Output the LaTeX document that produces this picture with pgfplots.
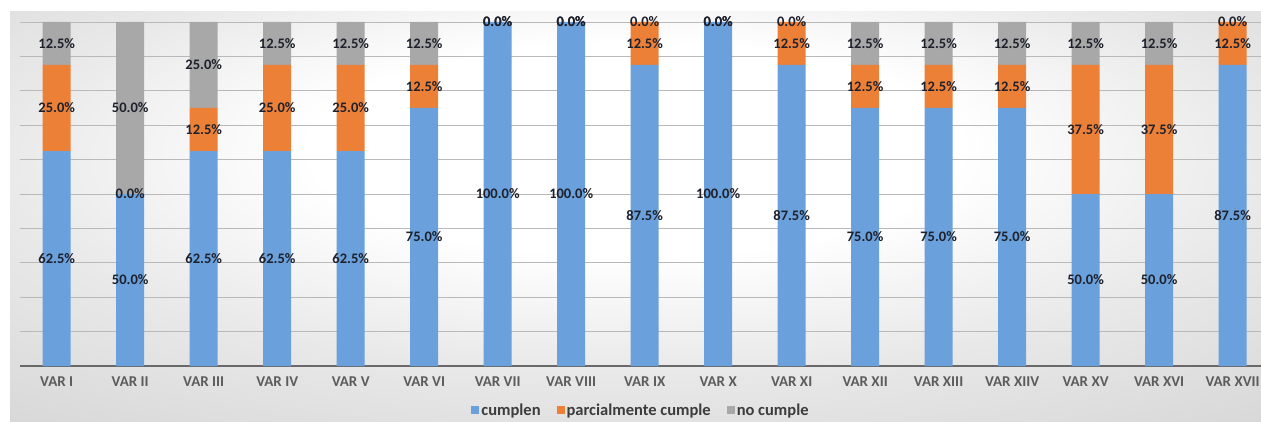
\documentclass[border=0pt]{standalone}
\usepackage{fontspec}
\setmainfont{Carlito}
\usepackage{pgfplots}
\usepackage{pgfplotstable}
\pgfplotsset{compat=1.18}

\definecolor{cblue}{RGB}{106,160,219}
\definecolor{corange}{RGB}{237,128,55}
\definecolor{cgray}{RGB}{168,168,168}
\definecolor{labelcol}{RGB}{30,33,43}
\definecolor{tickcol}{RGB}{92,92,92}
\definecolor{gridcol}{RGB}{185,185,185}
\definecolor{axiscol}{RGB}{105,105,105}
\definecolor{legcol}{RGB}{60,60,60}
\definecolor{bgA}{RGB}{232,232,232}
\definecolor{bgB}{RGB}{210,210,210}
\definecolor{bgC}{RGB}{200,200,200}

\pgfdeclareradialshading{chartbg}{\pgfpoint{0bp}{10bp}}{%
  color(0bp)=(white); color(13bp)=(white); color(26bp)=(bgA);
  color(44bp)=(bgB); color(75bp)=(bgC)}

\pgfplotstableread{
x  cumplen parcial nocumple
0  62.5  25.0  12.5
1  50.0   0.0  50.0
2  62.5  12.5  25.0
3  62.5  25.0  12.5
4  62.5  25.0  12.5
5  75.0  12.5  12.5
6  100.0  0.0   0.0
7  100.0  0.0   0.0
8  87.5  12.5   0.0
9  100.0  0.0   0.0
10 87.5  12.5   0.0
11 75.0  12.5  12.5
12 75.0  12.5  12.5
13 75.0  12.5  12.5
14 50.0  37.5  12.5
15 50.0  37.5  12.5
16 87.5  12.5   0.0
}\datatable
% middle of each stacked segment, for the value labels
\pgfplotstablecreatecol[expr={\thisrow{cumplen}/2}]{mc}\datatable
\pgfplotstablecreatecol[expr={\thisrow{cumplen}+\thisrow{parcial}/2}]{mp}\datatable
\pgfplotstablecreatecol[expr={\thisrow{cumplen}+\thisrow{parcial}+\thisrow{nocumple}/2}]{mn}\datatable

\pgfplotsset{
  chartframe/.style={
    at={(20pt,55pt)}, anchor=south west,
    scale only axis, width=1242pt, height=344pt,
    xmin=-0.5, xmax=16.4, ymin=0, ymax=100,
    clip=false,
  },
}

\begin{document}
\begin{tikzpicture}
\useasboundingbox (0,0) rectangle (1261pt,421pt);
\fill[white] (0,0) rectangle (1261pt,421pt);
\shade[shading=chartbg] (10pt,0) rectangle (1261pt,409pt);
\begin{axis}[
  chartframe,
  ybar stacked, bar width=28pt,
  axis line style={draw=none},
  tick style={draw=none},
  ytick={10,20,...,100}, yticklabels={},
  ymajorgrids, grid style={gridcol, line width=0.9pt},
  extra y ticks={0}, extra y tick labels={},
  extra y tick style={grid style={axiscol, line width=1.3pt}},
  xtick={0,...,16},
  xticklabels={VAR I, VAR II, VAR III, VAR IV, VAR V, VAR VI, VAR VII, VAR VIII,
    VAR IX, VAR X, VAR XI, VAR XII, VAR XIII, VAR XIIV, VAR XV, VAR XVI, VAR XVII},
  xticklabel style={font=\bfseries\fontsize{15}{17}\selectfont, text=tickcol, yshift=-7pt},
  legend style={at={(0.5,-0.128)}, anchor=center, draw=none, fill=none,
    font=\bfseries\fontsize{16.5}{18}\selectfont, text=legcol,
    /tikz/every even column/.append style={column sep=14pt},
    nodes={inner sep=2pt}},
  legend columns=-1,
  legend image code/.code={\fill[#1] (0pt,-3.5pt) rectangle (8pt,4.5pt);},
]
\addplot[fill=cblue, draw=none] table[x=x, y=cumplen] {\datatable};
\addplot[fill=corange, draw=none] table[x=x, y=parcial] {\datatable};
\addplot[fill=cgray, draw=none] table[x=x, y=nocumple] {\datatable};
\legend{cumplen, parcialmente cumple, no cumple}
\end{axis}
% value labels, centred in their segments
\begin{axis}[
  chartframe,
  hide axis,
  point meta=explicit,
  /pgf/number format/assume math mode=true,
  nodes near coords={\pgfmathprintnumber[fixed,fixed zerofill,precision=1]{\pgfplotspointmeta}\%},
  every node near coord/.append style={font=\bfseries\fontsize{14.5}{16}\selectfont,
    text=labelcol, anchor=center},
]
\addplot[draw=none, mark=none] table[x=x, y=mc, meta=cumplen] {\datatable};
\addplot[draw=none, mark=none] table[x=x, y=mp, meta=parcial] {\datatable};
\addplot[draw=none, mark=none] table[x=x, y=mn, meta=nocumple] {\datatable};
\end{axis}
\end{tikzpicture}
\end{document}
